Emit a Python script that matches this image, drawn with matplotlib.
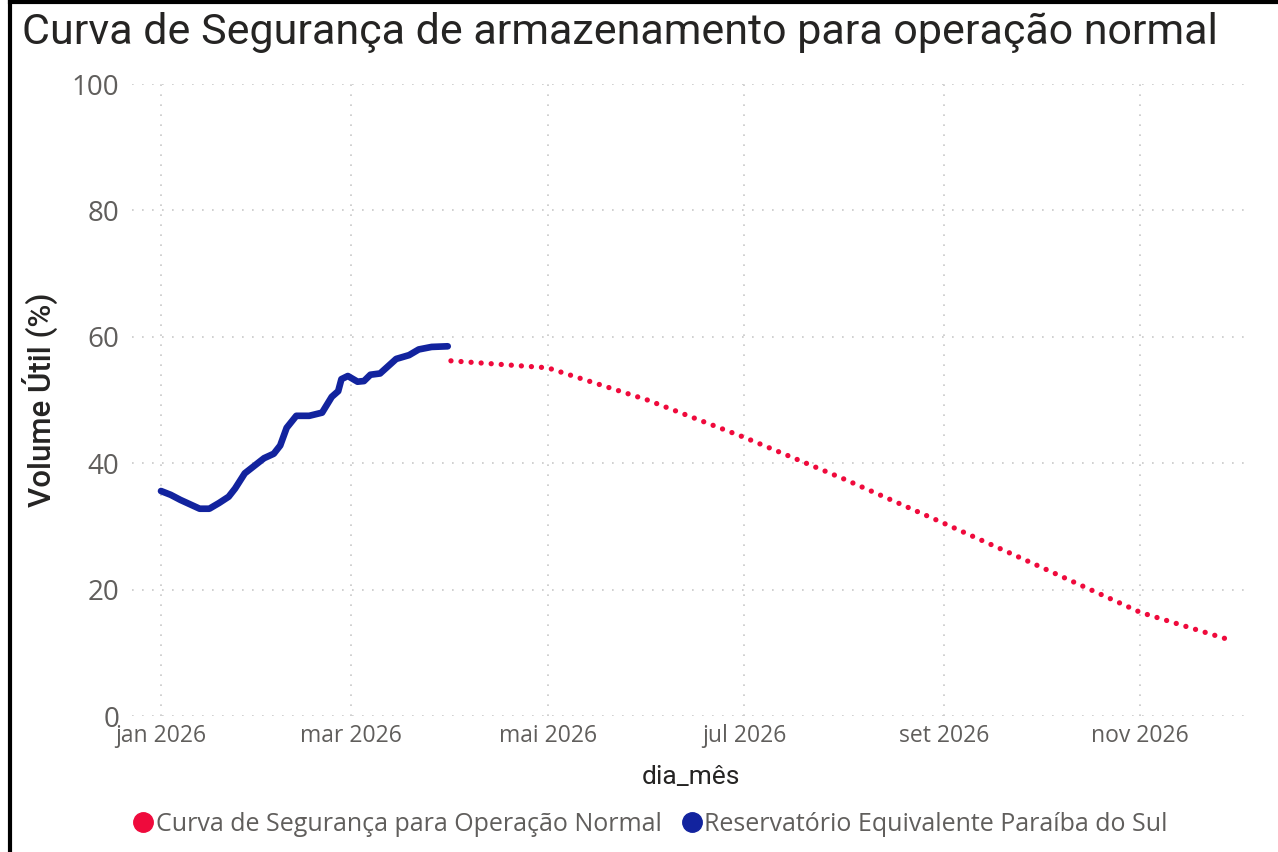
"""Curva de segurança de armazenamento - Paraíba do Sul."""
from datetime import datetime

import matplotlib
matplotlib.use("Agg")
import matplotlib.dates as mdates
import matplotlib.pyplot as plt
from matplotlib.lines import Line2D
from matplotlib.ticker import FuncFormatter

# reservatório observado (volume útil %)
obs_dates = [
    "2026-01-01", "2026-01-04", "2026-01-07", "2026-01-10", "2026-01-13",
    "2026-01-16", "2026-01-19", "2026-01-22", "2026-01-24", "2026-01-27",
    "2026-01-29", "2026-02-02", "2026-02-05", "2026-02-07", "2026-02-09",
    "2026-02-12", "2026-02-16", "2026-02-20", "2026-02-23", "2026-02-25",
    "2026-02-26", "2026-02-28", "2026-03-03", "2026-03-05", "2026-03-07",
    "2026-03-10", "2026-03-15", "2026-03-19", "2026-03-22", "2026-03-26",
    "2026-03-31",
]
obs_values = [
    35.6, 35.0, 34.2, 33.5, 32.8,
    32.8, 33.7, 34.7, 36.0, 38.4,
    39.2, 40.8, 41.5, 42.8, 45.6,
    47.5, 47.5, 48.0, 50.5, 51.4,
    53.3, 53.8, 52.9, 53.0, 54.0,
    54.2, 56.5, 57.1, 58.0, 58.4,
    58.5,
]

# curva de segurança
curve_dates = [
    "2026-04-01", "2026-05-01", "2026-06-01", "2026-07-01", "2026-08-01",
    "2026-09-01", "2026-10-01", "2026-11-01", "2026-11-29",
]
curve_values = [56.2, 55.1, 50.0, 44.1, 37.5, 30.5, 23.6, 16.4, 12.0]

MESES = ["jan", "fev", "mar", "abr", "mai", "jun",
         "jul", "ago", "set", "out", "nov", "dez"]

RED = "#EF0A3C"
BLUE = "#12239E"
GRID = "#C8C8C8"
TICK = "#605E5C"
DARK = "#252423"


def _d(s):
    return datetime.strptime(s, "%Y-%m-%d")


def _fmt(x, pos=None):
    d = mdates.num2date(x)
    return f"{MESES[d.month - 1]} {d.year}"


fig = plt.figure(figsize=(12.78, 8.52), dpi=100)
ax = fig.add_axes([0.1033, 0.1596, 0.8747, 0.7418])

ax.plot([_d(s) for s in curve_dates], curve_values, color=RED, lw=3.8,
        linestyle=(0, (0.01, 1.9)), dash_capstyle="round")
ax.plot([_d(s) for s in obs_dates], obs_values, color=BLUE, lw=4.8,
        solid_capstyle="round", solid_joinstyle="round")

ax.set_ylim(0, 100)
ax.set_xlim(_d("2025-12-23"), _d("2026-12-05"))
ax.set_yticks([0, 20, 40, 60, 80, 100])
ax.xaxis.set_major_locator(mdates.MonthLocator(bymonth=[1, 3, 5, 7, 9, 11]))
ax.xaxis.set_major_formatter(FuncFormatter(_fmt))

ax.grid(True, color=GRID, linestyle=(0, (1, 5)), linewidth=1.2)
ax.set_axisbelow(True)
for sp in ax.spines.values():
    sp.set_visible(False)
ax.tick_params(length=0)
ax.tick_params(axis="y", labelsize=20, labelcolor=TICK, pad=9)
ax.tick_params(axis="x", labelsize=16.5, labelcolor=TICK, pad=6)
for lab in ax.get_xticklabels() + ax.get_yticklabels():
    lab.set_family("Open Sans")

ax.set_xlabel("dia_mês", fontsize=19, color=DARK, family="Roboto",
              labelpad=12)
ax.set_ylabel("Volume Útil (%)", fontsize=22.5, color=DARK, family="Roboto",
              fontweight="medium", labelpad=10)

fig.text(0.017, 0.962, "Curva de Segurança de armazenamento para operação normal",
         fontsize=31, color=DARK, family="Roboto",
         va="center", ha="left")

handles = [
    Line2D([], [], marker="o", ls="none", color=RED, markersize=14),
    Line2D([], [], marker="o", ls="none", color=BLUE, markersize=14),
]
fig.legend(handles, ["Curva de Segurança para Operação Normal",
                     "Reservatório Equivalente Paraíba do Sul"],
           loc="center", bbox_to_anchor=(0.508, 0.032), ncol=2, frameon=False,
           handletextpad=0.0, columnspacing=0.7, handlelength=1.0,
           prop={"family": "Open Sans", "size": 18}, labelcolor=TICK)

# frame edges
fig.add_artist(Line2D([0.008, 0.008], [0, 1], color="black", lw=3,
                      transform=fig.transFigure))
fig.add_artist(Line2D([0.008, 1], [0.998, 0.998], color="black", lw=3,
                      transform=fig.transFigure))

fig.savefig("out.png", dpi=100)
